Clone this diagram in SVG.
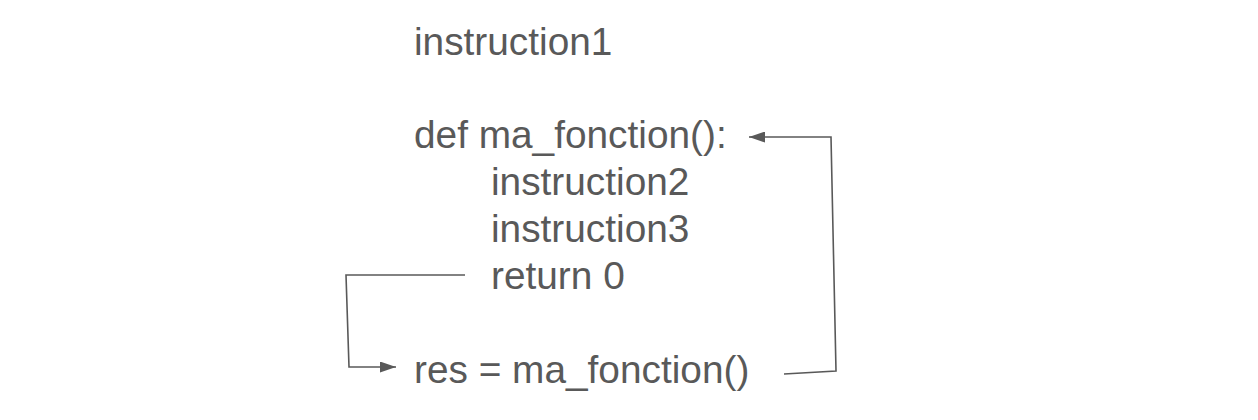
<svg xmlns="http://www.w3.org/2000/svg" width="1258" height="420" viewBox="0 0 1258 420">
<style>
.t{font-family:"Liberation Sans",Arial,sans-serif;font-size:38.8px;fill:#595959}
.c{fill:none;stroke:#595959;stroke-width:1.6}
</style>
<defs>
<marker id="ah" viewBox="0 0 16 11" refX="16" refY="5.5" markerWidth="16" markerHeight="11" markerUnits="userSpaceOnUse" orient="auto">
<path d="M0,0 L16,5.5 L0,11 Z" fill="#595959"/>
</marker>
</defs>
<rect width="1258" height="420" fill="#ffffff"/>
<g id="instruction1"><text class="t" x="414" y="55">instruction1</text></g>
<g id="def"><text class="t" x="414" y="148">def ma_fonction():</text></g>
<g id="instruction2"><text class="t" x="491" y="195">instruction2</text></g>
<g id="instruction3"><text class="t" x="491" y="242">instruction3</text></g>
<g id="return"><text class="t" x="491" y="289">return 0</text></g>
<g id="res"><text class="t" x="414" y="383">res = ma_fonction()</text></g>
<g id="connectors">
<path class="c" d="M465,275 L346,275 L349,367 L396,367" marker-end="url(#ah)"/>
<path class="c" d="M784,374 L836,371 L831,137 L749,137" marker-end="url(#ah)"/>
</g>
</svg>
